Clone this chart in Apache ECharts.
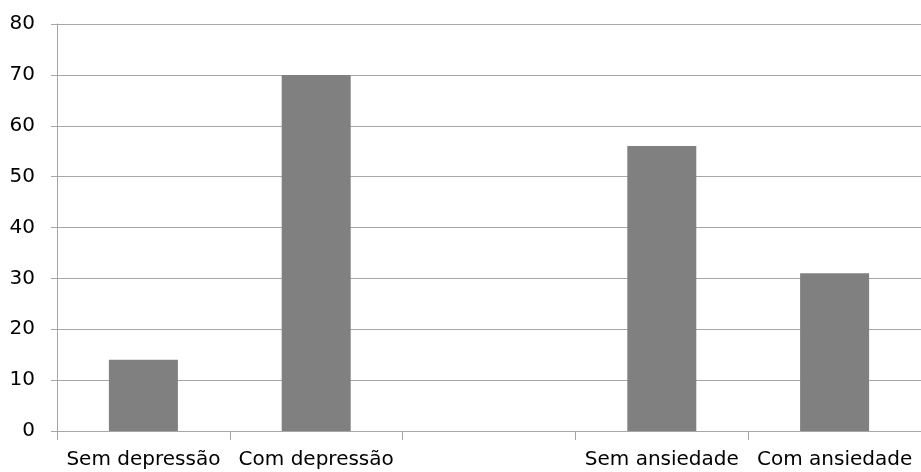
<!DOCTYPE html>
<html>
<head>
<meta charset="utf-8">
<script src="https://cdn.jsdelivr.net/npm/echarts@6/dist/echarts.min.js"></script>
<style>
  html, body { margin: 0; padding: 0; background: #fff; }
  #chart { width: 921px; height: 472px; }
</style>
</head>
<body>
<div id="chart"></div>
<script>
// Groups along the x axis (one empty slot separates depression from anxiety)
const categories = ['Sem depressão', 'Com depressão', '', 'Sem ansiedade', 'Com ansiedade'];
const values = [14, 70, null, 56, 31];
const yTicks = { min: 0, max: 80, interval: 10 };

const gridGray = '#a6a6a6';
const fontFamily = '"DejaVu Sans", Verdana, sans-serif';

const chart = echarts.init(document.getElementById('chart'), null, { renderer: 'canvas' });
chart.setOption({
  animation: false,
  backgroundColor: '#ffffff',
  grid: { left: 57, top: 24, bottom: 41, width: 869, containLabel: false },
  xAxis: {
    type: 'category',
    data: categories,
    boundaryGap: true,
    axisLine: { show: true, lineStyle: { color: gridGray, width: 1 } },
    axisTick: { show: true, length: 9, lineStyle: { color: gridGray } },
    axisLabel: { color: '#000', fontSize: 20, fontFamily: fontFamily, margin: 19, interval: 0 },
    splitLine: { show: false }
  },
  yAxis: {
    type: 'value',
    min: yTicks.min,
    max: yTicks.max,
    interval: yTicks.interval,
    axisLine: { show: true, lineStyle: { color: gridGray, width: 1 } },
    axisTick: { show: true, length: 6, lineStyle: { color: gridGray } },
    axisLabel: { color: '#000', fontSize: 20, fontFamily: fontFamily, margin: 22 },
    splitLine: { show: true, lineStyle: { color: gridGray, width: 1 } }
  },
  series: [{
    type: 'bar',
    data: values,
    barWidth: 69,
    itemStyle: { color: '#808080' }
  }]
});
</script>
</body>
</html>
